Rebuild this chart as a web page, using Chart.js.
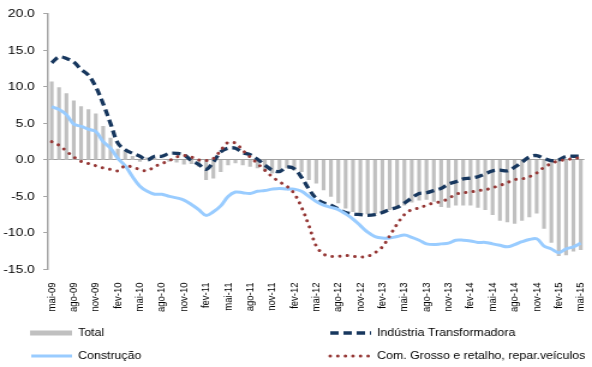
<!DOCTYPE html>
<html>
<head>
<meta charset="utf-8">
<script src="https://cdn.jsdelivr.net/npm/chart.js@4.4.1/dist/chart.umd.min.js"></script>
<style>
  html, body { margin: 0; padding: 0; background: #fff; }
</style>
</head>
<body>
<!-- canvas is drawn narrow and widened by its inline style -->
<canvas id="grafico" width="493" height="367" style="display:block;width:592px;height:367px"></canvas>
<script>
// meses mai-09 .. mai-15
const meses = [
  'mai-09', 'jun-09', 'jul-09', 'ago-09', 'set-09', 'out-09', 'nov-09', 'dez-09',
  'jan-10', 'fev-10', 'mar-10', 'abr-10', 'mai-10', 'jun-10', 'jul-10', 'ago-10', 'set-10', 'out-10', 'nov-10', 'dez-10',
  'jan-11', 'fev-11', 'mar-11', 'abr-11', 'mai-11', 'jun-11', 'jul-11', 'ago-11', 'set-11', 'out-11', 'nov-11', 'dez-11',
  'jan-12', 'fev-12', 'mar-12', 'abr-12', 'mai-12', 'jun-12', 'jul-12', 'ago-12', 'set-12', 'out-12', 'nov-12', 'dez-12',
  'jan-13', 'fev-13', 'mar-13', 'abr-13', 'mai-13', 'jun-13', 'jul-13', 'ago-13', 'set-13', 'out-13', 'nov-13', 'dez-13',
  'jan-14', 'fev-14', 'mar-14', 'abr-14', 'mai-14', 'jun-14', 'jul-14', 'ago-14', 'set-14', 'out-14', 'nov-14', 'dez-14',
  'jan-15', 'fev-15', 'mar-15', 'abr-15', 'mai-15'
];

const total = [
  10.7, 9.9, 9.1, 8.1, 7.3, 6.9, 6.3, 4.6, 3.0, 1.5,
  1.2, 0.5, -0.2, 0.3, 0.2, 0.1, -0.2, -0.3, -0.6, -0.5,
  -0.9, -2.7, -2.5, -1.6, -0.7, -0.4, -0.7, -0.9, -1.1, -1.5,
  -1.8, -1.4, -1.1, -1.4, -1.6, -2.7, -3.2, -4.1, -5.0, -5.9,
  -6.6, -7.1, -7.4, -7.4, -7.4, -7.2, -6.8, -6.6, -6.2, -5.8,
  -5.5, -5.4, -5.7, -6.4, -6.5, -6.2, -6.2, -6.2, -6.5, -6.8,
  -7.5, -8.3, -8.5, -8.7, -8.3, -7.8, -7.3, -9.4, -11.3, -13.1,
  -13.0, -12.5, -12.3
];

const industria = [
  13.3, 14.1, 13.9, 13.4, 12.4, 11.6, 10.0, 7.7, 5.0, 2.3,
  1.4, 0.9, 0.5, 0.0, 0.5, 0.5, 0.9, 0.9, 0.7, -0.1,
  -0.6, -1.3, -0.3, 1.1, 1.6, 1.6, 1.0, 0.7, 0.1, -0.7,
  -1.4, -1.6, -1.0, -1.2, -2.4, -4.0, -5.3, -5.9, -6.2, -6.7,
  -7.2, -7.4, -7.5, -7.6, -7.5, -7.2, -6.8, -6.5, -5.9, -5.2,
  -4.6, -4.5, -4.2, -3.9, -3.3, -3.0, -2.6, -2.5, -2.3, -1.9,
  -1.5, -1.4, -1.5, -1.0, -0.3, 0.4, 0.6, 0.2, -0.1, 0.0,
  0.5, 0.5, 0.5
];

const construcao = [
  7.3, 6.9, 6.2, 4.9, 4.6, 4.2, 3.9, 2.5, 1.6, 0.2,
  -0.8, -2.3, -3.6, -4.3, -4.7, -4.7, -5.0, -5.2, -5.5, -6.1,
  -6.8, -7.6, -7.1, -6.3, -5.0, -4.4, -4.5, -4.6, -4.3, -4.2,
  -4.0, -3.9, -4.0, -4.0, -4.3, -5.0, -5.7, -6.2, -6.5, -6.8,
  -7.4, -8.1, -9.0, -9.9, -10.5, -10.7, -10.7, -10.5, -10.3, -10.6,
  -11.0, -11.5, -11.6, -11.5, -11.4, -11.0, -11.0, -11.1, -11.3, -11.3,
  -11.5, -11.7, -11.9, -11.6, -11.2, -10.9, -10.8, -11.8, -12.2, -12.7,
  -12.2, -11.9, -11.4
];

const comercio = [
  2.5, 2.0, 1.2, 0.4, -0.2, -0.5, -0.8, -1.1, -1.3, -1.5,
  -0.8, -1.0, -1.3, -1.5, -0.9, -0.5, -0.1, 0.4, 0.6, 0.4,
  0.0, -0.1, 0.2, 1.3, 2.4, 2.3, 1.3, 0.4, -0.5, -1.4,
  -2.3, -3.0, -3.6, -4.6, -6.5, -9.0, -11.8, -12.9, -13.2, -13.2,
  -13.1, -13.2, -13.3, -13.2, -12.7, -11.9, -10.4, -8.8, -7.5, -6.8,
  -6.6, -6.2, -5.9, -5.7, -5.3, -4.7, -4.5, -4.4, -4.2, -4.1,
  -3.8, -3.5, -3.1, -2.7, -2.6, -2.3, -1.8, -1.0, -0.5, -0.1,
  0.0, 0.2, 0.3
];

const fonte = 'Liberation Sans, Arial, sans-serif';

// legenda em duas colunas por baixo do eixo
const legendaGrelha = {
  id: 'legendaGrelha',
  afterDraw(chart) {
    const ctx = chart.ctx;
    const pos = [[25, 333], [274, 333], [25, 356], [274, 356]];
    chart.data.datasets.forEach((ds, i) => {
      const [x, y] = pos[i];
      ctx.save();
      if (ds.type === 'bar') {
        ctx.fillStyle = ds.backgroundColor;
        ctx.fillRect(x, y - 2.5, 35, 5);
      } else {
        ctx.strokeStyle = ds.borderColor;
        ctx.lineWidth = ds.borderWidth;
        ctx.lineCap = ds.borderCapStyle || 'butt';
        ctx.setLineDash(ds.borderDash || []);
        ctx.beginPath();
        ctx.moveTo(x + 1, y);
        ctx.lineTo(x + 35, y);
        ctx.stroke();
      }
      ctx.setLineDash([]);
      ctx.fillStyle = '#000';
      ctx.font = '10.3px ' + fonte;
      ctx.textBaseline = 'middle';
      ctx.fillText(ds.label, x + 40, y);
      ctx.restore();
    });
  }
};

new Chart(document.getElementById('grafico'), {
  type: 'bar',
  data: {
    labels: meses,
    datasets: [
      {
        type: 'bar',
        label: 'Total',
        data: total,
        backgroundColor: '#c0c0c0',
        barThickness: 2.5,
        order: 4
      },
      {
        type: 'line',
        label: 'Indústria Transformadora',
        data: industria,
        borderColor: '#17375e',
        borderWidth: 3.3,
        borderDash: [7, 4],
        pointRadius: 0,
        tension: 0.35,
        order: 3
      },
      {
        type: 'line',
        label: 'Construção',
        data: construcao,
        borderColor: '#99ccff',
        borderWidth: 3,
        pointRadius: 0,
        tension: 0.35,
        order: 2
      },
      {
        type: 'line',
        label: 'Com. Grosso e retalho, repar.veículos',
        data: comercio,
        borderColor: '#953735',
        borderWidth: 3,
        borderDash: [0.01, 6.3],
        borderCapStyle: 'round',
        pointRadius: 0,
        tension: 0.35,
        order: 1
      }
    ]
  },
  options: {
    responsive: false,
    animation: false,
    layout: { padding: { left: 2, right: 6.3, top: 7, bottom: 50 } },
    plugins: {
      legend: { display: false },
      tooltip: { enabled: false }
    },
    scales: {
      x: {
        offset: true,
        grid: { display: false },
        border: { display: false },
        // rotated labels fit inside the margins already
        afterFit(scale) {
          scale.paddingLeft = 0;
          scale.paddingRight = 0;
        },
        ticks: {
          autoSkip: false,
          minRotation: 90,
          maxRotation: 90,
          padding: 5,
          color: '#000',
          font: { family: fonte, size: 9.5 },
          callback: function (v, i) {
            return i % 3 === 0 ? this.getLabelForValue(v) : '';
          }
        }
      },
      y: {
        min: -15,
        max: 20,
        afterFit(scale) {
          scale.width = 38;
        },
        border: { display: true, color: '#a6a6a6', width: 1.5 },
        grid: {
          color: c => (c.tick && c.tick.value === 0 ? '#a0a0a0' : 'rgba(0,0,0,0)'),
          tickColor: '#a6a6a6',
          tickLength: 4,
          lineWidth: 1
        },
        ticks: {
          stepSize: 5,
          padding: 7,
          color: '#000',
          font: { family: fonte, size: 11.5 },
          callback: v => v.toFixed(1)
        }
      }
    }
  },
  plugins: [legendaGrelha]
});
</script>
</body>
</html>
